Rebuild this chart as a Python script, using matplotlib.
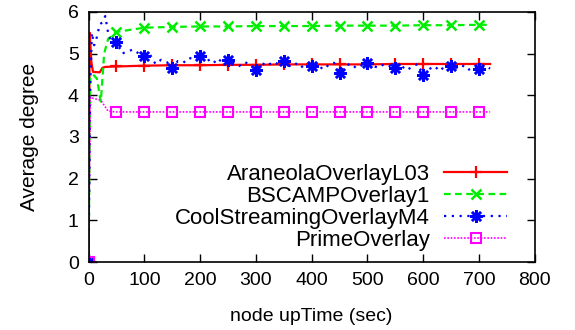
import matplotlib
matplotlib.use('Agg')
import matplotlib.pyplot as plt

plt.rcParams['font.family'] = ['Liberation Sans', 'DejaVu Sans']

# --- DATA ---
red_t = [0, 2, 5, 8, 20, 25, 30, 50, 100, 150, 200, 250, 300, 350, 400, 450, 500, 550, 600, 650, 700, 720]
red_y = [0, 5.5, 4.8, 4.56, 4.55, 4.66, 4.68, 4.69, 4.71, 4.72, 4.72, 4.73, 4.73, 4.74, 4.74, 4.74, 4.74, 4.75, 4.75, 4.75, 4.75, 4.75]

green_t = [0, 3, 8, 15, 22, 28, 35, 50, 100, 150, 200, 250, 300, 350, 400, 450, 500, 550, 600, 650, 700, 720]
green_y = [0, 4.4, 4.5, 4.4, 3.85, 5.0, 5.35, 5.52, 5.62, 5.64, 5.65, 5.65, 5.66, 5.66, 5.66, 5.67, 5.67, 5.67, 5.68, 5.68, 5.69, 5.69]

blue_t = [0, 3, 6, 10, 15, 20, 25, 30, 35, 40] + list(range(50, 721, 10))
blue_y = [0, 4.2, 5.5, 5.2, 5.4, 5.7, 5.75, 5.9, 5.5, 5.3,
          5.28, 5.00, 5.05, 5.10, 5.00, 4.93, 4.98, 4.75, 4.85, 4.80,
          4.65, 4.82, 4.78, 4.90, 4.85, 4.95, 4.80, 4.88, 4.75, 4.90,
          4.85, 4.78, 4.70, 4.80, 4.72, 4.61, 4.78, 4.70, 4.80, 4.75,
          4.82, 4.70, 4.78, 4.66, 4.75, 4.69, 4.76, 4.62, 4.72, 4.78,
          4.54, 4.70, 4.76, 4.65, 4.72, 4.77, 4.70, 4.66, 4.75, 4.70,
          4.65, 4.72, 4.60, 4.68, 4.75, 4.49, 4.62, 4.70, 4.58, 4.72,
          4.69, 4.66, 4.72, 4.60, 4.68, 4.62, 4.70, 4.64]

mag_t = [0, 3, 10, 22, 35, 50, 100, 150, 200, 250, 300, 350, 400, 450, 500, 550, 600, 650, 700, 720]
mag_y = [0, 3.95, 3.92, 3.88, 3.62, 3.6, 3.6, 3.6, 3.6, 3.6, 3.6, 3.6, 3.6, 3.6, 3.6, 3.6, 3.6, 3.6, 3.6, 3.6]

labels = ['AraneolaOverlayL03', 'BSCAMPOverlay1', 'CoolStreamingOverlayM4', 'PrimeOverlay']
xticks = list(range(0, 801, 100))
yticks = list(range(0, 7))


def marks(t):
    return [i for i, v in enumerate(t) if v % 50 == 0 and v <= 700]


fig = plt.figure(figsize=(5.75, 3.3), dpi=100)
ax = fig.add_axes([0.154, 0.206, 0.776, 0.758])

ax.plot(red_t, red_y, color='#ff0000', lw=1.6, ls='-', marker='+', ms=8.5, mew=1.6,
        markevery=marks(red_t), label=labels[0])
ax.plot(green_t, green_y, color='#00ee00', lw=1.6, ls=(0, (3, 2)), marker='x', ms=7.5, mew=1.8,
        markevery=marks(green_t), label=labels[1])
ax.plot(blue_t, blue_y, color='#0000ff', lw=1.6, ls=(0, (1, 2.5)), marker=(8, 2, 0), ms=9, mew=1.8,
        markevery=marks(blue_t), label=labels[2])
ax.plot(mag_t, mag_y, color='#ff00ff', lw=1.2, ls=(0, (1, 1)), marker='s', ms=6.5, mew=1.5,
        mfc='none', markevery=marks(mag_t), label=labels[3])

ax.set_xlim(0, 800)
ax.set_ylim(0, 6)
ax.set_xticks(xticks)
ax.set_yticks(yticks)
ax.tick_params(direction='in', length=6, width=1, top=True, right=True, labelsize=14, pad=7)
for s in ax.spines.values():
    s.set_linewidth(1.2)

ax.set_xlabel('node upTime (sec)', fontsize=14, labelpad=14)
ax.set_ylabel('Average degree', fontsize=15, labelpad=21)

leg = ax.legend(loc='lower right', bbox_to_anchor=(0.937, 0.043), frameon=False, markerfirst=False,
                fontsize=16, handlelength=2.8, handletextpad=0.65, labelspacing=0.05, borderpad=0,
                borderaxespad=0)

fig.savefig('out.png', dpi=100)
